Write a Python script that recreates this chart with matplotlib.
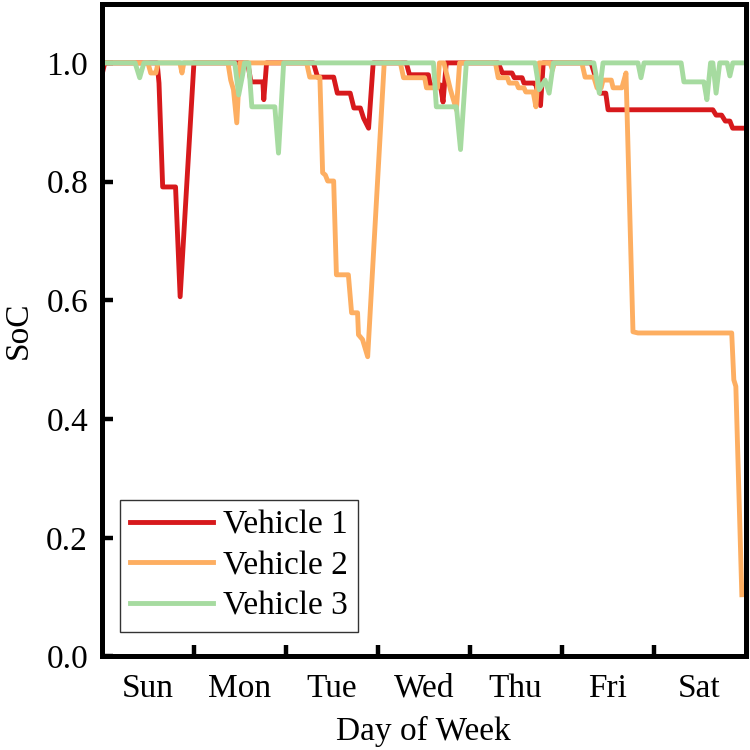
import matplotlib.pyplot as plt
from matplotlib.ticker import FixedLocator, NullFormatter, FixedFormatter

plt.rcParams['font.family'] = ['Liberation Serif', 'DejaVu Serif']

# SoC readings per vehicle (x in days since Sunday 00:00)
v1_day = [0, 0.03, 0.60, 0.62, 0.66, 0.80, 0.85, 1.0, 1.585, 1.62, 1.75, 1.76, 1.79,
          2.30, 2.345, 2.52, 2.56, 2.70, 2.74, 2.81, 2.845, 2.90, 2.95,
          3.31, 3.345, 3.55, 3.57, 3.68, 3.71, 3.745,
          4.31, 4.355, 4.46, 4.485, 4.57, 4.59, 4.70, 4.72, 4.77, 4.80,
          5.32, 5.36, 5.42, 5.48, 5.505, 6.645, 6.68, 6.74, 6.78, 6.83, 6.86, 7.0]
v1_soc = [0.98, 1.0, 1.0, 0.966, 0.791, 0.791, 0.606, 1.0, 1.0, 0.968, 0.968, 0.938, 1.0,
          1.0, 0.976, 0.976, 0.949, 0.949, 0.924, 0.924, 0.907, 0.89, 1.0,
          1.0, 0.98, 0.98, 0.963, 0.963, 0.934, 1.0,
          1.0, 0.983, 0.983, 0.975, 0.975, 0.966, 0.966, 0.963, 0.928, 1.0,
          1.0, 0.98, 0.949, 0.949, 0.921, 0.921, 0.912, 0.912, 0.902, 0.902, 0.89, 0.89]

v2_day = [0, 0.50, 0.53, 0.586, 0.61, 0.847, 0.87, 0.89,
          1.37, 1.40, 1.43, 1.466, 1.50,
          2.226, 2.26, 2.37, 2.40, 2.43, 2.455, 2.52, 2.55, 2.68, 2.715, 2.78, 2.79, 2.834, 2.89, 3.07,
          3.246, 3.28, 3.51, 3.53, 3.65, 3.67, 3.72, 3.79, 3.855, 3.89,
          4.28, 4.31, 4.41, 4.43, 4.51, 4.53, 4.59, 4.61, 4.69, 4.72, 4.755, 4.875, 4.90, 4.92,
          5.22, 5.255, 5.35, 5.385, 5.43, 5.45, 5.54, 5.56, 5.655, 5.70, 5.776, 5.83,
          6.85, 6.873, 6.895, 6.96]
v2_soc = [1.0, 1.0, 0.983, 0.983, 1.0, 1.0, 0.983, 1.0,
          1.0, 0.971, 0.955, 0.899, 1.0,
          1.0, 0.976, 0.976, 0.815, 0.811, 0.801, 0.801, 0.643, 0.643, 0.579, 0.579, 0.542, 0.534, 0.505, 1.0,
          1.0, 0.975, 0.975, 0.958, 0.958, 1.0, 1.0, 0.955, 0.921, 1.0,
          1.0, 0.975, 0.975, 0.966, 0.966, 0.958, 0.958, 0.951, 0.951, 0.926, 1.0, 1.0, 0.988, 1.0,
          1.0, 0.976, 0.976, 0.958, 0.958, 0.971, 0.971, 0.958, 0.958, 0.983, 0.547, 0.545,
          0.545, 0.466, 0.455, 0.104]

v3_day = [0, 0.36, 0.41, 0.456,
          1.444, 1.487, 1.53, 1.55, 1.596, 1.63, 1.88, 1.92, 1.976,
          3.605, 3.637, 3.855, 3.90, 3.963,
          4.71, 4.756, 4.82, 4.864, 4.91,
          5.35, 5.41, 5.45, 5.83, 5.863, 5.896,
          6.30, 6.33, 6.547, 6.58, 6.62, 6.645, 6.68, 6.72, 6.80, 6.83, 6.862, 7.0]
v3_soc = [1.0, 1.0, 0.975, 1.0,
          1.0, 0.946, 0.98, 1.0, 1.0, 0.926, 0.926, 0.848, 1.0,
          1.0, 0.926, 0.926, 0.854, 1.0,
          1.0, 0.955, 0.971, 0.949, 1.0,
          1.0, 0.949, 1.0, 1.0, 0.975, 1.0,
          1.0, 0.968, 0.968, 0.938, 1.0, 1.0, 0.949, 1.0, 1.0, 0.978, 1.0, 1.0]

days = ['Sun', 'Mon', 'Tue', 'Wed', 'Thu', 'Fri', 'Sat']
labels = ['Vehicle 1', 'Vehicle 2', 'Vehicle 3']
colors = ['#d7191c', '#fdae61', '#a6dba0']

fig = plt.figure(figsize=(7.5, 7.5), dpi=100)
ax = fig.add_axes([0.136, 0.1247, 0.858, 0.8706])

for d, s, lab, c in zip([v1_day, v2_day, v3_day], [v1_soc, v2_soc, v3_soc], labels, colors):
    ax.plot(d, s, color=c, linewidth=3.5, label=lab)

ax.set_xlim(0, 7)
ax.set_ylim(0, 1.1)

# day boundaries get tick marks, day names sit in the middle
ax.xaxis.set_major_locator(FixedLocator(range(1, 7)))
ax.xaxis.set_major_formatter(NullFormatter())
ax.xaxis.set_minor_locator(FixedLocator([i + 0.5 for i in range(7)]))
ax.xaxis.set_minor_formatter(FixedFormatter(days))
ax.set_yticks([0, 0.2, 0.4, 0.6, 0.8, 1.0])
ax.set_yticklabels(['0.0', '0.2', '0.4', '0.6', '0.8', '1.0'])

ax.tick_params(axis='both', which='major', direction='in', length=8, width=3.2, labelsize=24, pad=10)
ax.tick_params(axis='x', which='minor', length=0, labelsize=24, pad=12)
for sp in ax.spines.values():
    sp.set_linewidth(3.6)

ax.set_xlabel('Day of Week', fontsize=24, labelpad=9)
ax.set_ylabel('SoC', fontsize=24, labelpad=9)

leg = ax.legend(loc='lower left', bbox_to_anchor=(0.028, 0.038), borderaxespad=0,
                fontsize=24, frameon=True, fancybox=False, edgecolor='black',
                handlelength=2.5, handletextpad=0.3, labelspacing=0.3, borderpad=0.3)
leg.get_frame().set_linewidth(1.0)

plt.savefig('out.png', dpi=100)
